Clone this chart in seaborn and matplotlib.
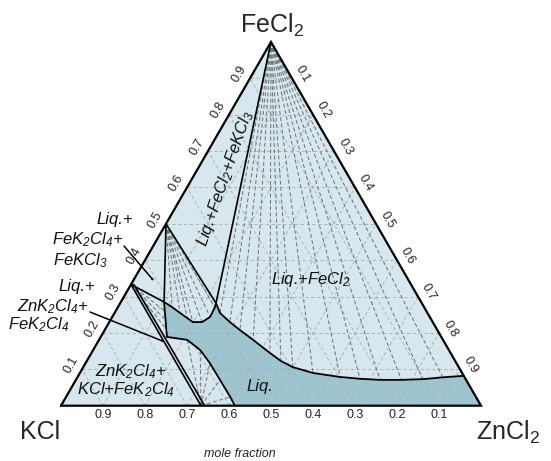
import numpy as np
import matplotlib
matplotlib.use("Agg")
import matplotlib.pyplot as plt
import seaborn as sns

# Compositions are mole fractions (FeCl2, ZnCl2); KCl makes up the balance.
# Liquidus of FeCl2, from the FeCl2-ZnCl2 edge to the invariant point L1
liq_fecl2_fe = [0.082, 0.078, 0.073, 0.071, 0.071, 0.074, 0.079, 0.090, 0.106,
                0.123, 0.145, 0.181, 0.208, 0.230, 0.255, 0.282]
liq_fecl2_zn = [0.916, 0.870, 0.825, 0.775, 0.724, 0.675, 0.625, 0.555, 0.499,
                0.462, 0.425, 0.367, 0.322, 0.287, 0.251, 0.228]
# Liquidus of FeKCl3, from L1 to L2
liq_fekcl3_fe = [0.282, 0.271, 0.244, 0.230, 0.230, 0.241, 0.255, 0.271, 0.285]
liq_fekcl3_zn = [0.228, 0.231, 0.233, 0.221, 0.199, 0.180, 0.156, 0.129, 0.103]
# Liquidus of FeK2Cl4, from L2 to L3
liq_fek2cl4_fe = [0.285, 0.260, 0.236, 0.211, 0.189]
liq_fek2cl4_zn = [0.103, 0.117, 0.131, 0.145, 0.158]
# Liquidus of ZnK2Cl4, from L3 to the KCl-ZnCl2 edge
liq_znk2cl4_fe = [0.189, 0.181, 0.153, 0.117, 0.071, 0.024, 0.000]
liq_znk2cl4_zn = [0.158, 0.210, 0.255, 0.296, 0.343, 0.391, 0.414]

# Solid phases
compounds = {
    "FeCl2": (1.0, 0.0),
    "FeKCl3": (0.5, 0.0),
    "FeK2Cl4": (1 / 3, 0.0),
    "FeK2Cl4_ss": (0.333, 0.007),
    "ZnK2Cl4": (0.0, 1 / 3),
    "ZnK2Cl4_ss": (0.0, 0.342),
    "KCl": (0.0, 0.0),
    "ZnCl2": (0.0, 1.0),
}

ticks = [0.1, 0.2, 0.3, 0.4, 0.5, 0.6, 0.7, 0.8, 0.9]

LIGHT = "#d7e7ed"
DARK = "#9ec4d0"
H = np.sqrt(3) / 2


def tern(fe, zn):
    fe = np.asarray(fe, float)
    zn = np.asarray(zn, float)
    return zn + fe / 2, fe * H


sns.set_theme(style="white")
plt.rcParams["font.family"] = ["Liberation Sans", "DejaVu Sans"]
plt.rcParams["mathtext.fontset"] = "custom"
plt.rcParams["mathtext.rm"] = "Liberation Sans"
plt.rcParams["mathtext.it"] = "Liberation Sans:italic"
plt.rcParams["mathtext.default"] = "regular"

W, HT = 551, 461
fig = plt.figure(figsize=(W / 100, HT / 100), dpi=100)
fig.patch.set_facecolor("white")
ax = fig.add_axes([61 / W, (HT - 405.7) / HT, 420 / W, 420 * H / HT])
ax.set_xlim(0, 1)
ax.set_ylim(0, H)
ax.axis("off")


def at(x, y):
    """figure-fraction position from pixel offsets measured from the top-left"""
    return x / W, 1 - y / HT


# background triangle
tri_x, tri_y = tern([0, 0, 1, 0], [0, 1, 0, 0])
ax.fill(tri_x, tri_y, color=LIGHT, lw=0, zorder=0)

# single-phase liquid region
liq_fe = (liq_znk2cl4_fe + [compounds["ZnCl2"][0]] + liq_fecl2_fe
          + liq_fekcl3_fe[1:] + liq_fek2cl4_fe[1:])
liq_zn = (liq_znk2cl4_zn + [compounds["ZnCl2"][1]] + liq_fecl2_zn
          + liq_fekcl3_zn[1:] + liq_fek2cl4_zn[1:])
lx, ly = tern(liq_fe, liq_zn)
ax.fill(lx, ly, color=DARK, lw=0, zorder=1)

# composition grid
grid_kw = dict(color="#a3aeb3", lw=0.6, ls=(0, (4, 3)), zorder=2)
for t in ticks:
    gx, gy = tern([t, t], [0, 1 - t])
    ax.plot(gx, gy, **grid_kw)
    gx, gy = tern([0, 1 - t], [t, t])
    ax.plot(gx, gy, **grid_kw)
    gx, gy = tern([0, 1 - t], [1 - t, 0])
    ax.plot(gx, gy, **grid_kw)

# tie lines of the two-phase fields
tie_kw = dict(color="#6a7074", lw=0.7, ls=(0, (4, 2.5)), zorder=3)


def fan(origin, fe_list, zn_list):
    for f, z in zip(fe_list[1:-1], zn_list[1:-1]):
        x, y = tern([compounds[origin][0], f], [compounds[origin][1], z])
        ax.plot(x, y, **tie_kw)


fan("FeCl2", liq_fecl2_fe, liq_fecl2_zn)
fan("FeKCl3", liq_fekcl3_fe, liq_fekcl3_zn)
fan("FeK2Cl4", liq_fek2cl4_fe, liq_fek2cl4_zn)
fan("ZnK2Cl4", liq_znk2cl4_fe, liq_znk2cl4_zn)

# liquidus curves
for fe_l, zn_l in [(liq_fecl2_fe, liq_fecl2_zn), (liq_fekcl3_fe, liq_fekcl3_zn),
                   (liq_fek2cl4_fe, liq_fek2cl4_zn), (liq_znk2cl4_fe, liq_znk2cl4_zn)]:
    cx, cy = tern(fe_l, zn_l)
    sns.lineplot(x=cx, y=cy, sort=False, estimator=None, color="black",
                 lw=1.3, ax=ax, zorder=5)

# three-phase triangle sides
L1 = (liq_fecl2_fe[-1], liq_fecl2_zn[-1])
L2 = (liq_fekcl3_fe[-1], liq_fekcl3_zn[-1])
for a, b in [(compounds["FeCl2"], L1), (compounds["FeKCl3"], L1),
             (compounds["FeKCl3"], L2), (compounds["FeK2Cl4"], L2),
             (compounds["FeK2Cl4"], compounds["ZnK2Cl4"]),
             (compounds["FeK2Cl4_ss"], compounds["ZnK2Cl4_ss"])]:
    sx, sy = tern([a[0], b[0]], [a[1], b[1]])
    ax.plot(sx, sy, color="black", lw=1.2, zorder=5)

# triangle outline
ax.plot(tri_x, tri_y, color="black", lw=1.6, zorder=6, clip_on=False,
        solid_joinstyle="miter")

# edge labels
for t in ticks:
    # bottom: KCl fraction
    x, y = tern(0, 1 - t)
    ax.text(x, y - 0.022, f"{t:.1f}", ha="center", va="center", fontsize=9,
            color="#222222")
    # left: FeCl2 fraction
    x, y = tern(t, 0)
    ax.text(x - 0.026, y + 0.010, f"{t:.1f}", ha="center", va="center",
            fontsize=9, rotation=60, color="#222222")
    # right: ZnCl2 fraction
    x, y = tern(1 - t, t)
    ax.text(x + 0.026, y + 0.010, f"{t:.1f}", ha="center", va="center",
            fontsize=9, rotation=-60, color="#222222")

# corner labels
fig.text(*at(272, 25), "FeCl$_2$", fontsize=18, ha="center", va="center")
fig.text(*at(40, 432), "KCl", fontsize=18, ha="center", va="center")
fig.text(*at(508, 432), "ZnCl$_2$", fontsize=18, ha="center", va="center")
fig.text(*at(240, 454), "mole fraction", fontsize=9, style="italic",
         ha="center", va="center")

# phase-field labels
lab = dict(style="italic", fontsize=12, ha="center", va="center", color="#111111")
fig.text(*at(225, 178), "Liq.+FeCl$_2$+FeKCl$_3$", rotation=71, **lab)
fig.text(*at(311, 279), "Liq.+FeCl$_2$", **lab)
fig.text(*at(260, 386), "Liq.", **lab)
fig.text(*at(115, 219), "Liq.+", **lab)
fig.text(*at(88, 240), "FeK$_2$Cl$_4$+", **lab)
fig.text(*at(80, 261), "FeKCl$_3$", **lab)
fig.text(*at(77, 286), "Liq.+", **lab)
fig.text(*at(53, 307), "ZnK$_2$Cl$_4$+", **lab)
fig.text(*at(39, 325), "FeK$_2$Cl$_4$", **lab)
fig.text(*at(131, 372), "ZnK$_2$Cl$_4$+", **lab)
fig.text(*at(126, 390), "KCl+FeK$_2$Cl$_4$", **lab)

arrow = dict(arrowstyle="-|>,head_length=0.7,head_width=0.3", color="black",
             lw=1.1, shrinkA=0, shrinkB=0)
fig.add_artist(matplotlib.patches.FancyArrowPatch(
    at(124, 246), at(154, 281), transform=fig.transFigure, **arrow))
fig.add_artist(matplotlib.patches.FancyArrowPatch(
    at(90, 312), at(165, 342), transform=fig.transFigure, **arrow))

fig.savefig("out.png", dpi=100, facecolor="white")
